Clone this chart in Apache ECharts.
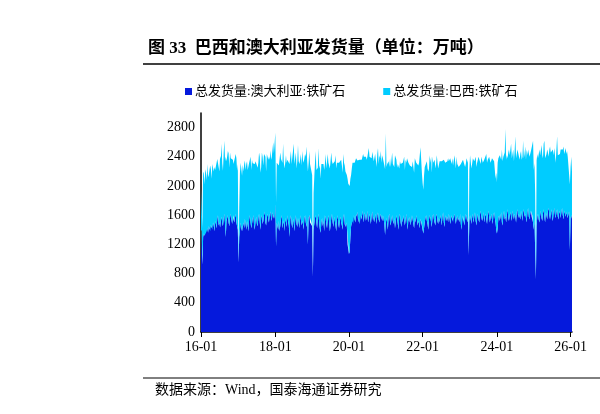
<!DOCTYPE html>
<html><head><meta charset="utf-8">
<script src="https://cdn.jsdelivr.net/npm/echarts@6/dist/echarts.min.js"></script>
<style>body{margin:0;background:#fff}#c{width:600px;height:414px}</style>
</head><body><div id="c"></div>
<script>
const startDate = '2016-01-03';
const yTicks = [0,400,800,1200,1600,2000,2400,2800];
const xTickLabels = ['16-01','18-01','20-01','22-01','24-01','26-01'];
const seriesNames = ['总发货量:澳大利亚:铁矿石','总发货量:巴西:铁矿石'];
const australia = [
1400,1380,920,1300,1350,1320,1380,1400,1380,1420,1360,1450,1400,1380,1470,1420,1400,1500,1460,1380,1520,1480,1420,1550,1600,1460,1500,1430,1520,1580,1490,1450,1550,1620,1480,1300,1520,1560,1600,1500,1450,1560,1620,1540,1480,1580,1600,1500,1560,1620,1500,1450,
1400,950,1300,1400,1500,1420,1380,1450,1500,1420,1550,1480,1400,1520,1460,1380,1540,1600,1500,1420,1480,1550,1600,1460,1400,1520,1580,1480,1450,1560,1620,1500,1400,1560,1600,1480,1520,1600,1650,1500,1460,1580,1620,1540,1500,1600,1650,1560,1520,1640,1600,1550,
1550,1750,1170,1500,1450,1400,1520,1380,1460,1550,1600,1420,1480,1520,1380,1560,1500,1440,1600,1520,1460,1300,1540,1600,1480,1420,1550,1500,1380,1520,1600,1480,1440,1560,1500,1420,1600,1540,1460,1520,1480,1400,1560,1600,1500,1440,1520,1200,1560,1600,1500,1480,
1500,1450,750,1400,1480,1560,1600,1500,1420,1550,1620,1480,1400,1360,1500,1560,1450,1520,1380,1600,1560,1480,1420,1540,1600,1500,1380,1460,1560,1620,1500,1440,1580,1520,1460,1380,1540,1600,1480,1420,1520,1580,1500,1460,1400,1560,1620,1480,1440,1500,1450,1200,
1200,1070,1100,1300,1450,1500,1520,1480,1600,1540,1500,1620,1580,1650,1500,1560,1480,1620,1600,1540,1660,1580,1500,1640,1600,1520,1580,1660,1500,1560,1620,1540,1480,1600,1650,1520,1580,1500,1620,1560,1480,1600,1640,1540,1500,1580,1620,1560,1520,1600,1540,1480,
1330,1500,1560,1480,1400,1580,1620,1500,1460,1540,1600,1520,1480,1560,1420,1500,1600,1550,1480,1400,1580,1620,1500,1440,1560,1500,1600,1520,1460,1540,1620,1480,1400,1560,1500,1580,1460,1520,1600,1540,1480,1420,1560,1500,1600,1540,1460,1520,1480,1420,1550,1500,
1480,1400,1350,1420,1500,1560,1600,1520,1480,1400,1540,1600,1560,1500,1440,1580,1620,1540,1500,1460,1580,1620,1520,1480,1560,1500,1600,1540,1460,1580,1640,1500,1440,1560,1600,1520,1580,1500,1620,1560,1480,1540,1600,1520,1500,1580,1620,1540,1480,1560,1600,1520,
1560,1500,1620,1480,1400,1580,1600,1520,1460,1540,1620,1580,1500,1560,1050,1520,1600,1540,1480,1620,1560,1500,1580,1640,1520,1460,1560,1620,1540,1500,1600,1660,1580,1520,1560,1640,1500,1580,1620,1540,1480,1600,1660,1580,1500,1560,1620,1540,1480,1600,1640,1560,
1500,1400,1350,1420,1560,1600,1520,1580,1640,1500,1460,1600,1660,1540,1580,1500,1620,1680,1560,1520,1600,1640,1580,1520,1660,1600,1540,1620,1580,1500,1640,1680,1560,1620,1580,1540,1660,1600,1520,1640,1680,1580,1620,1560,1500,1640,1700,1580,1540,1620,1660,1580,
1600,1500,1400,1550,1100,720,1450,1580,1620,1540,1500,1600,1660,1560,1520,1620,1680,1580,1500,1640,1600,1540,1660,1700,1600,1540,1620,1680,1560,1520,1640,1700,1600,1560,1640,1680,1580,1540,1660,1620,1560,1640,1700,1600,1540,1660,1620,1580,1640,1600,1560,1620,
1650,1120,1560,1600,1550];
const brazil = [
560,600,500,900,820,700,850,780,700,880,760,700,820,900,760,680,900,820,740,880,700,760,900,820,780,900,700,980,850,1000,820,760,900,1000,860,1100,820,760,880,950,800,900,760,820,900,780,700,850,780,820,880,760,
900,0,400,780,820,900,760,840,700,880,800,740,900,820,760,860,780,720,900,800,880,760,700,860,900,820,740,880,800,760,840,900,780,700,860,920,760,840,800,900,740,860,780,820,900,760,840,800,880,760,1000,900,
900,980,600,820,860,900,760,880,1000,820,760,900,1100,800,860,760,920,880,760,840,900,1000,760,880,820,900,760,1080,920,800,860,760,900,1000,840,880,760,900,820,960,880,920,760,840,900,1100,820,1000,760,880,800,840,
800,700,0,500,640,760,880,720,820,700,900,760,880,740,800,720,860,780,840,700,880,760,820,900,720,800,860,760,900,720,800,880,740,820,960,860,780,720,840,900,800,740,860,820,780,880,700,800,760,720,700,900,
830,950,900,800,700,740,800,820,720,780,840,760,800,700,860,780,880,760,740,820,700,860,900,760,800,880,780,740,900,960,780,840,900,780,820,880,760,860,820,900,780,840,880,760,920,800,860,760,900,820,860,800,
900,1220,700,820,900,760,640,880,800,740,860,780,820,700,1000,900,760,700,820,900,660,720,800,860,740,820,700,880,760,820,700,900,960,760,840,700,820,760,660,800,880,760,820,900,720,800,860,760,840,900,980,860,
700,640,600,720,760,700,640,820,760,800,700,820,760,900,740,820,700,760,860,780,720,800,880,760,700,840,760,820,880,740,680,860,900,760,700,800,760,880,720,780,900,820,700,860,780,720,800,880,760,840,700,780,
700,780,640,820,900,700,760,840,900,720,680,800,860,760,0,700,820,880,760,640,820,900,760,700,880,800,760,700,860,900,780,640,820,880,760,700,860,800,720,900,840,760,680,820,900,760,700,840,900,760,700,800,
600,780,700,900,820,760,900,840,720,1000,880,800,720,920,1200,860,800,700,900,980,820,760,1000,860,740,900,800,860,1100,880,760,820,960,880,780,900,820,760,880,980,700,860,920,800,1000,780,800,900,860,780,820,900,
900,1120,820,760,800,0,900,860,760,900,1000,820,740,1000,900,760,900,1040,880,760,840,960,800,700,900,1000,840,760,900,980,780,820,900,760,860,1000,840,900,760,820,940,860,780,900,1000,780,860,940,800,880,840,760,
750,900,700,800,650];

const dates = [];
const t0 = new Date(startDate + 'T00:00:00Z').getTime();
for (let i = 0; i < australia.length; i++) {
  const d = new Date(t0 + i * 7 * 86400000);
  dates.push(String(d.getUTCFullYear()).slice(2) + '-' + String(d.getUTCMonth() + 1).padStart(2, '0') + '-' + String(d.getUTCDate()).padStart(2, '0'));
}
// tick indices: first week of January in even years
const tickIdx = new Set();
xTickLabels.forEach(l => {
  const i = dates.findIndex(d => d.startsWith(l));
  if (i >= 0) tickIdx.add(i);
});
const font = '"Liberation Serif","Noto Sans CJK SC",serif';
const chart = echarts.init(document.getElementById('c'));
chart.setOption({
  animation: false,
  title: {text: '图 33  巴西和澳大利亚发货量（单位：万吨）', left: 143, top: 35,
    textStyle: {fontFamily: font, fontSize: 17, fontWeight: 'bold', color: '#000'}},
  graphic: [
    {type: 'line', shape: {x1: 143, y1: 64, x2: 600, y2: 64}, style: {stroke: '#000', lineWidth: 1.5}},
    {type: 'line', shape: {x1: 143, y1: 378, x2: 600, y2: 378}, style: {stroke: '#000', lineWidth: 1}},
    {type: 'text', left: 155, top: 383, style: {text: '数据来源：Wind，国泰海通证券研究', font: '14px ' + font, fill: '#000'}}
  ],
  legend: {top: 80, left: 180, itemWidth: 7, itemHeight: 7, itemGap: 38, icon: 'rect',
    textStyle: {fontFamily: font, fontSize: 13, color: '#000', padding: [0,0,0,-2]}},
  grid: {left: 201, right: 28, top: 113, bottom: 82},
  xAxis: {type: 'category', data: dates, boundaryGap: false,
    axisLine: {lineStyle: {color: '#000', width: 1.5}},
    axisTick: {interval: (i) => tickIdx.has(i), length: 5, lineStyle: {color: '#000'}},
    axisLabel: {interval: (i) => tickIdx.has(i), formatter: v => v.slice(0,5),
      fontFamily: font, fontSize: 14, color: '#000', margin: 8},
    splitLine: {show: false}},
  yAxis: {type: 'value', min: 0, max: 3000, interval: 200,
    axisLine: {show: true, lineStyle: {color: '#000', width: 1.5}},
    axisTick: {show: false},
    axisLabel: {formatter: v => (v % 400 === 0 && v <= 2800) ? String(v) : '',
      fontFamily: font, fontSize: 14, color: '#000', margin: 6},
    splitLine: {show: false}},
  series: [
    {name: seriesNames[0], type: 'line', stack: 's', data: australia, symbol: 'none',
      lineStyle: {width: 0}, areaStyle: {color: '#0519DC', opacity: 1}, itemStyle: {color: '#0519DC'}},
    {name: seriesNames[1], type: 'line', stack: 's', data: brazil, symbol: 'none',
      lineStyle: {width: 0}, areaStyle: {color: '#00CCFF', opacity: 1}, itemStyle: {color: '#00CCFF'}}
  ]
});
</script></body></html>
